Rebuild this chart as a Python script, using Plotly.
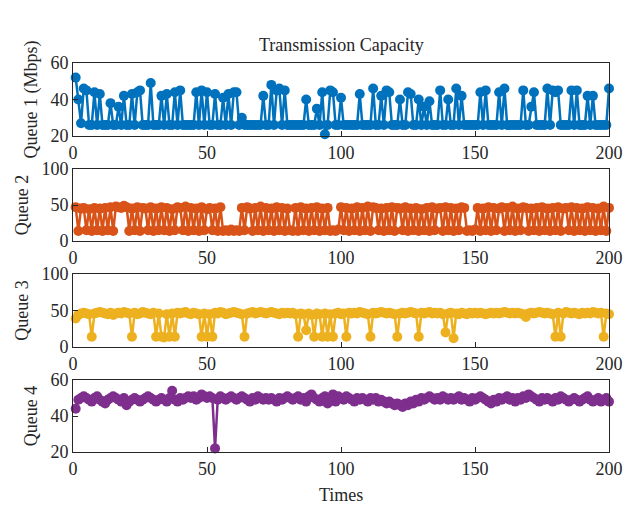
import plotly.graph_objects as go

times = list(range(1, 201))

queue1 = [
    52, 40, 27, 46, 45, 26, 26, 44, 26, 43, 26, 26, 26, 38, 26, 26, 36, 26, 42, 26,
    26, 43, 26, 44, 45, 26, 26, 26, 49, 26, 26, 26, 42, 26, 43, 26, 26, 44, 26, 45,
    26, 26, 26, 26, 26, 44, 26, 45, 26, 44, 26, 26, 43, 26, 26, 41, 26, 43, 26, 44,
    44, 26, 30, 26, 26, 26, 26, 26, 26, 26, 42, 26, 26, 48, 26, 45, 46, 26, 45, 26,
    26, 26, 26, 26, 26, 26, 40, 26, 26, 26, 35, 26, 44, 21, 26, 45, 44, 26, 26, 41,
    26, 26, 26, 26, 26, 26, 43, 26, 26, 26, 26, 46, 26, 26, 42, 26, 45, 44, 26, 26,
    26, 40, 26, 26, 44, 43, 26, 26, 40, 26, 36, 26, 39, 26, 26, 26, 45, 26, 26, 40,
    26, 26, 46, 26, 42, 26, 26, 26, 26, 26, 26, 44, 26, 45, 26, 26, 26, 26, 44, 26,
    46, 26, 26, 26, 26, 26, 26, 45, 26, 26, 36, 44, 26, 26, 26, 26, 46, 26, 45, 44,
    45, 26, 26, 26, 26, 45, 26, 45, 26, 26, 26, 42, 26, 42, 26, 26, 26, 26, 26, 46,
]

queue2 = [
    47, 14, 45, 46, 15, 44, 14, 46, 15, 45, 14, 46, 15, 47, 14, 48, 47, 46, 49, 47,
    14, 45, 15, 47, 14, 46, 45, 15, 47, 14, 45, 15, 47, 15, 46, 14, 44, 15, 47, 46,
    15, 48, 14, 46, 15, 45, 14, 47, 15, 44, 46, 15, 45, 14, 47, 14, 15, 14, 16, 14,
    15, 14, 46, 15, 47, 45, 14, 46, 15, 48, 14, 46, 15, 45, 14, 47, 15, 46, 14, 45,
    15, 14, 46, 14, 47, 15, 45, 14, 46, 15, 47, 14, 45, 15, 46, 14, 15, 14, 16, 47,
    15, 46, 14, 45, 15, 47, 14, 46, 15, 48, 14, 47, 46, 15, 45, 14, 46, 15, 47, 14,
    46, 45, 15, 47, 14, 45, 15, 46, 14, 44, 15, 46, 14, 47, 15, 45, 46, 14, 47, 15,
    46, 14, 45, 15, 47, 46, 14, 15, 14, 16, 46, 14, 45, 15, 47, 14, 46, 15, 45, 47,
    14, 46, 15, 48, 14, 45, 15, 47, 46, 14, 45, 15, 46, 14, 47, 15, 45, 14, 46, 15,
    47, 14, 45, 46, 15, 47, 14, 46, 15, 45, 14, 47, 15, 46, 14, 45, 15, 48, 14, 46,
]

queue3 = [
    39, 44, 46, 47, 46, 45, 14, 46, 47, 48, 47, 46, 45, 47, 44, 46, 47, 46, 48, 47,
    46, 14, 47, 45, 46, 48, 47, 46, 45, 47, 14, 46, 14, 13, 45, 14, 46, 14, 47, 46,
    47, 48, 46, 45, 47, 46, 45, 14, 46, 14, 45, 14, 47, 46, 48, 47, 45, 46, 47, 48,
    47, 46, 45, 14, 46, 47, 48, 46, 47, 48, 47, 46, 47, 48, 47, 46, 45, 47, 46, 47,
    46, 47, 45, 14, 46, 45, 23, 46, 44, 14, 46, 45, 14, 46, 14, 45, 14, 46, 47, 45,
    46, 14, 47, 46, 47, 46, 48, 47, 46, 45, 14, 47, 46, 47, 48, 47, 46, 47, 46, 45,
    14, 46, 47, 46, 47, 48, 47, 46, 14, 47, 46, 47, 48, 46, 47, 46, 47, 45, 20, 46,
    47, 12, 46, 45, 47, 46, 45, 47, 46, 47, 46, 47, 46, 45, 46, 47, 46, 47, 46, 47,
    48, 47, 46, 47, 46, 47, 46, 45, 41, 46, 47, 46, 47, 48, 47, 46, 47, 46, 45, 14,
    47, 14, 46, 48, 47, 46, 47, 46, 45, 47, 46, 47, 46, 48, 47, 46, 47, 14, 46, 45,
]

queue4 = [
    44, 49, 50, 51, 50, 49, 48, 50, 51, 49, 48, 47, 49, 50, 51, 50, 49, 48, 50, 46,
    48, 49, 50, 49, 48, 49, 50, 51, 50, 49, 48, 49, 50, 49, 48, 50, 54, 49, 48, 50,
    49, 50, 51, 50, 51, 49, 50, 52, 51, 50, 51, 50, 22, 49, 51, 50, 49, 50, 51, 50,
    49, 50, 51, 50, 49, 48, 50, 49, 51, 50, 49, 50, 49, 50, 49, 48, 50, 49, 50, 51,
    50, 49, 50, 51, 49, 50, 48, 51, 52, 50, 49, 48, 50, 51, 47, 50, 52, 48, 51, 50,
    49, 51, 50, 49, 48, 50, 49, 50, 49, 48, 50, 49, 50, 48, 49, 48, 47, 48, 47, 46,
    47, 46, 45, 47, 46, 48, 47, 49, 48, 50, 49, 50, 51, 50, 49, 50, 49, 51, 50, 49,
    50, 49, 50, 51, 49, 50, 49, 48, 50, 49, 50, 51, 50, 49, 48, 47, 49, 48, 50, 49,
    50, 51, 49, 50, 48, 50, 49, 51, 50, 52, 51, 50, 49, 48, 50, 49, 50, 49, 48, 50,
    49, 51, 50, 49, 48, 49, 50, 49, 48, 49, 50, 51, 49, 48, 49, 50, 48, 49, 50, 48,
]

series = [queue1, queue2, queue3, queue4]
colors = ["#0072BD", "#D95319", "#EDB120", "#7E2F8E"]
ylabels = ["Queue 1 (Mbps)", "Queue 2", "Queue 3", "Queue 4"]
yranges = [[20, 60], [0, 100], [0, 100], [20, 60]]
yticks = [[20, 40, 60], [0, 50, 100], [0, 50, 100], [20, 40, 60]]
xticks = [0, 50, 100, 150, 200]

W, H = 626, 505
boxes = [(63, 136), (169, 241), (274, 347), (380, 452)]
x0, x1 = 73, 609

FONT = "Liberation Serif"
FS = 18
fig = go.Figure()
layout = dict(
    width=W, height=H, margin=dict(l=0, r=0, t=0, b=0, autoexpand=False),
    paper_bgcolor="white", plot_bgcolor="white", showlegend=False,
    font=dict(family=FONT, size=FS, color="#262626"),
)
for i, (vals, col) in enumerate(zip(series, colors)):
    n = i + 1
    xa = "x" if n == 1 else f"x{n}"
    ya = "y" if n == 1 else f"y{n}"
    fig.add_trace(go.Scatter(
        x=times, y=vals, xaxis=xa, yaxis=ya, mode="lines+markers",
        line=dict(color=col, width=2.5), marker=dict(color=col, size=10),
        cliponaxis=False,
    ))
    top, bot = boxes[i]
    ax_common = dict(showline=True, mirror=True, linecolor="#262626", linewidth=1,
                     ticks="inside", ticklen=5, tickcolor="#262626", showgrid=False,
                     zeroline=False, automargin=False,
                     tickfont=dict(family=FONT, size=FS, color="#262626"))
    layout["xaxis" if n == 1 else f"xaxis{n}"] = dict(
        domain=[x0 / W, x1 / W], range=[0, 200], tickvals=xticks,
        anchor=ya, **ax_common)
    layout["yaxis" if n == 1 else f"yaxis{n}"] = dict(
        domain=[1 - bot / H, 1 - top / H], range=yranges[i], tickvals=yticks[i],
        anchor=xa, title=dict(text=ylabels[i], standoff=8,
                              font=dict(family=FONT, size=FS, color="#262626")),
        **ax_common)

fig.update_layout(**layout)
fig.add_annotation(text="Transmission Capacity", x=(x0 + x1) / 2 / W, y=1 - 45 / H,
                   xref="paper", yref="paper", showarrow=False,
                   xanchor="center", yanchor="middle",
                   font=dict(family=FONT, size=FS, color="#262626"))
fig.add_annotation(text="Times", x=(x0 + x1) / 2 / W, y=1 - 495 / H,
                   xref="paper", yref="paper", showarrow=False,
                   xanchor="center", yanchor="middle",
                   font=dict(family=FONT, size=FS, color="#262626"))
fig.write_html("out.html", config={"displayModeBar": False},
               post_script="document.body.style.margin='0px';document.body.style.padding='0px';")
